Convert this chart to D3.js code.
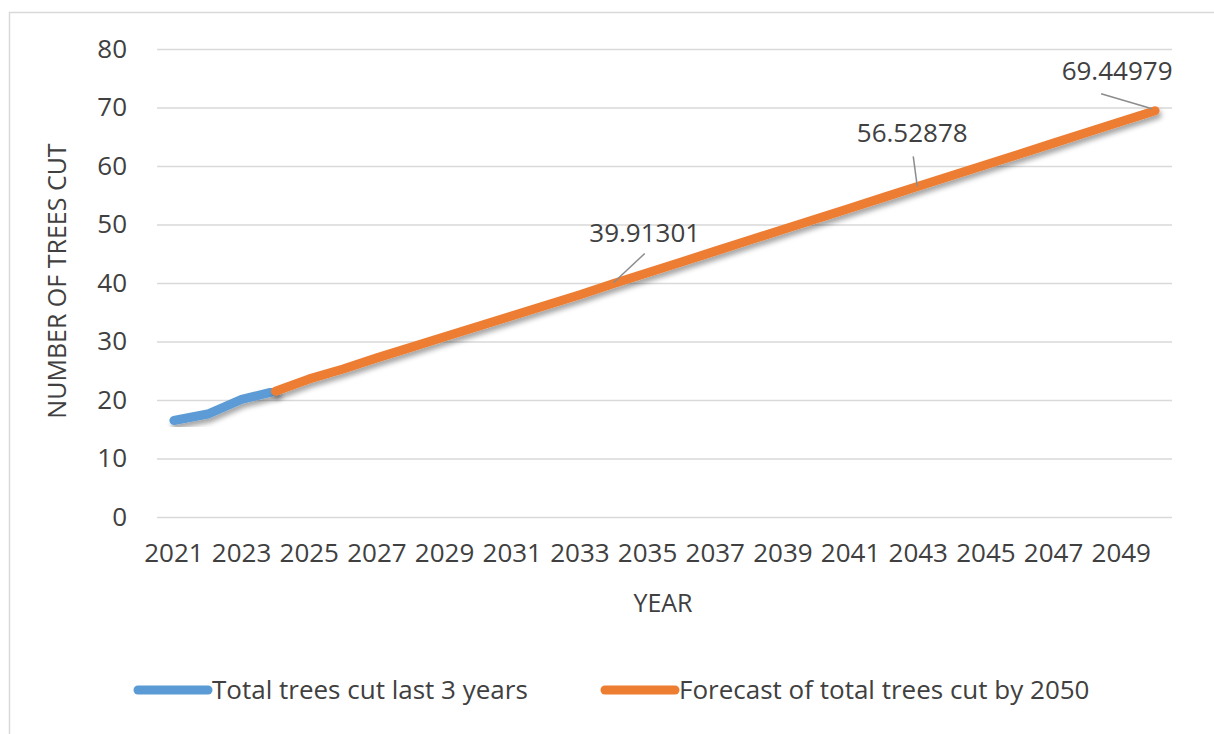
<!DOCTYPE html>
<html>
<head>
<meta charset="utf-8">
<script src="https://cdn.jsdelivr.net/npm/d3@7"></script>
<style>
  body { margin: 0; background: #fff; }
  svg { display: block; font-family: "Open Sans", sans-serif; }
  .grid line { stroke: #d9d9d9; stroke-width: 1.5; }
  .grid path { display: none; }
  .axis text { fill: #404040; font-size: 26px; font-family: "Open Sans", sans-serif; }
  .axis path, .axis line { display: none; }
</style>
</head>
<body>
<script>
"use strict";

// Categories
var years = [2021, 2022, 2023, 2024, 2025, 2026, 2027, 2028, 2029, 2030,
             2031, 2032, 2033, 2034, 2035, 2036, 2037, 2038, 2039, 2040,
             2041, 2042, 2043, 2044, 2045, 2046, 2047, 2048, 2049, 2050];
var xTickYears = [2021, 2023, 2025, 2027, 2029, 2031, 2033, 2035, 2037, 2039,
                  2041, 2043, 2045, 2047, 2049];
var yTicks = [0, 10, 20, 30, 40, 50, 60, 70, 80];

// Series: actuals 2021-2024
var actualYears = [2021, 2022, 2023, 2024];
var actualValues = [16.5, 17.6, 20.1, 21.5];

// Series: forecast 2024-2050
var forecastYears = [2024, 2025, 2026, 2027, 2028, 2029, 2030, 2031, 2032, 2033,
                     2034, 2035, 2036, 2037, 2038, 2039, 2040, 2041, 2042, 2043,
                     2044, 2045, 2046, 2047, 2048, 2049, 2050];
var forecastValues = [21.5, 23.6, 25.3, 27.2, 29.0, 30.8, 32.6, 34.4, 36.2, 38.0,
                      39.91301, 41.76, 43.6, 45.45, 47.3, 49.14, 50.99, 52.83, 54.68, 56.52878,
                      58.37, 60.22, 62.06, 63.91, 65.76, 67.6, 69.44979];

// Data labels
var labelYears = [2034, 2043, 2050];
var labelTexts = ["39.91301", "56.52878", "69.44979"];

var seriesNames = ["Total trees cut last 3 years", "Forecast of total trees cut by 2050"];
var seriesColors = ["#5b9bd5", "#ed7d31"];

var W = 1214, H = 734;
var margin = { top: 49, right: 42, bottom: 217, left: 157 };
var w = W - margin.left - margin.right,
    h = H - margin.top - margin.bottom;

var svg = d3.select("body").append("svg").attr("width", W).attr("height", H);

// drop shadow for the lines
var defs = svg.append("defs");
var filt = defs.append("filter").attr("id", "shadow")
  .attr("x", "-10%").attr("y", "-10%").attr("width", "120%").attr("height", "130%");
filt.append("feDropShadow").attr("dx", 2).attr("dy", 4).attr("stdDeviation", 2.5)
  .attr("flood-color", "#000").attr("flood-opacity", 0.35);

// chart border
svg.append("path").attr("d", "M9.5," + (H + 5) + "V12.5H" + (W + 5))
  .attr("fill", "none").attr("stroke", "#d9d9d9").attr("stroke-width", 1.5);

var g = svg.append("g").attr("transform", "translate(" + margin.left + "," + margin.top + ")");

var x = d3.scaleBand().domain(years).range([0, w]);
var xc = function (yr) { return x(yr) + x.bandwidth() / 2; };
var y = d3.scaleLinear().domain([0, 80]).range([h, 0]);

// gridlines
g.append("g").attr("class", "grid")
  .call(d3.axisLeft(y).tickValues(yTicks).tickSize(-w).tickFormat(""));

// y axis labels
g.append("g").attr("class", "axis")
  .attr("transform", "translate(-30,0)")
  .call(d3.axisLeft(y).tickValues(yTicks).tickSize(0).tickPadding(0));

// x axis labels
g.append("g").attr("class", "axis")
  .attr("transform", "translate(0," + h + ")")
  .call(d3.axisBottom(x).tickValues(xTickYears).tickSize(0).tickPadding(27));

// axis titles
svg.append("text").attr("x", 663).attr("y", 612).attr("text-anchor", "middle")
  .attr("fill", "#404040").style("font-size", "25px").text("YEAR");
svg.append("text").attr("transform", "translate(66,281) rotate(-90)")
  .attr("text-anchor", "middle").attr("fill", "#404040").style("font-size", "25px")
  .text("NUMBER OF TREES CUT");

// lines
var line = d3.line()
  .x(function (d) { return xc(d[0]); })
  .y(function (d) { return y(d[1]); });

var seriesData = [
  d3.zip(actualYears, actualValues),
  d3.zip(forecastYears, forecastValues)
];

g.selectAll(".series").data(seriesData).enter().append("path")
  .attr("class", "series")
  .attr("d", line)
  .attr("fill", "none")
  .attr("stroke", function (d, i) { return seriesColors[i]; })
  .attr("stroke-width", 9)
  .attr("stroke-linecap", "round")
  .attr("stroke-linejoin", "round")
  .attr("filter", "url(#shadow)");

// data labels with leader lines
var labelOffsets = [[31, -51], [-6, -53], [-38, -40]];
var leaderStart = [[31, -30], [-5, -30], [-54, -17]];
var leaderEnd = [[0, -1], [-1, 0], [-3, -2]];

labelYears.forEach(function (yr, i) {
  var v = forecastValues[forecastYears.indexOf(yr)];
  var px = xc(yr), py = y(v);
  g.append("line")
    .attr("x1", px + leaderStart[i][0]).attr("y1", py + leaderStart[i][1])
    .attr("x2", px + leaderEnd[i][0]).attr("y2", py + leaderEnd[i][1])
    .attr("stroke", "#8c8c8c").attr("stroke-width", 1.5);
  g.append("text")
    .attr("x", px + labelOffsets[i][0]).attr("y", py + labelOffsets[i][1])
    .attr("text-anchor", "middle").attr("dy", "0.35em")
    .attr("fill", "#404040").style("font-size", "26px")
    .text(labelTexts[i]);
});

// legend
var legendX = [138, 605];
var legend = svg.append("g").attr("transform", "translate(0,690)");
seriesNames.forEach(function (name, i) {
  legend.append("line")
    .attr("x1", legendX[i]).attr("x2", legendX[i] + 70)
    .attr("y1", 0).attr("y2", 0)
    .attr("stroke", seriesColors[i]).attr("stroke-width", 9)
    .attr("stroke-linecap", "round");
  legend.append("text")
    .attr("x", legendX[i] + 74).attr("y", 0).attr("dy", "0.35em")
    .attr("fill", "#404040").style("font-size", "26px")
    .text(name);
});
</script>
</body>
</html>
